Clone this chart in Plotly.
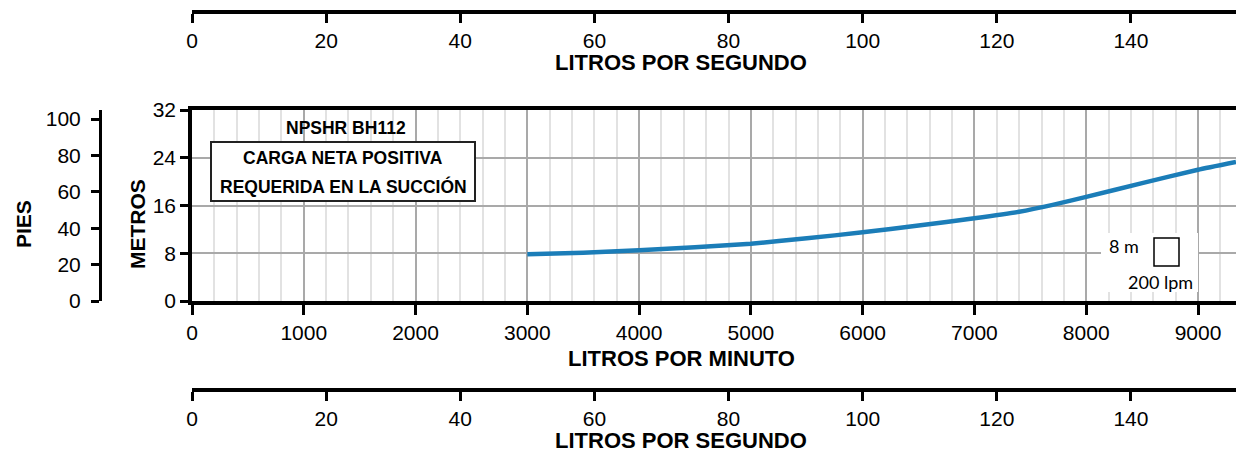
import plotly.graph_objects as go

# ---- data ----
lpm = [3000, 3500, 4000, 4500, 5000, 5500, 6000, 6500, 7000, 7400, 7700, 8000, 8500, 9000, 9340]
metros = [7.85, 8.1, 8.5, 9.0, 9.6, 10.5, 11.5, 12.65, 13.85, 14.95, 16.1, 17.45, 19.75, 22.0, 23.3]
lpm_ticks = [0, 1000, 2000, 3000, 4000, 5000, 6000, 7000, 8000, 9000]
lps_ticks = [0, 20, 40, 60, 80, 100, 120, 140]
metros_ticks = [0, 8, 16, 24, 32]
pies_ticks = [0, 20, 40, 60, 80, 100]

LPM_MAX = 9340
M_MAX = 32
FT_PER_M = 3.28084

W, H = 1236, 466
def px(x):
    return x / W
def py(y):
    return 1 - y / H

SANS = "Liberation Sans, Arial, sans-serif"
TICKFONT = dict(family=SANS, size=21, color="black")

fig = go.Figure()
fig.add_trace(go.Scatter(x=lpm, y=metros, mode="lines",
                         line=dict(color="#1b7db8", width=4.5, shape="spline", smoothing=0.4),
                         hoverinfo="skip", showlegend=False))
# invisible helpers to register secondary axes
fig.add_trace(go.Scatter(x=[v / 60 for v in lpm], y=metros, xaxis="x2", yaxis="y",
                         mode="markers", marker=dict(opacity=0), hoverinfo="skip", showlegend=False))
fig.add_trace(go.Scatter(x=[v / 60 for v in lpm], y=metros, xaxis="x3", yaxis="y",
                         mode="markers", marker=dict(opacity=0), hoverinfo="skip", showlegend=False))
fig.add_trace(go.Scatter(x=lpm, y=[m * FT_PER_M for m in metros], xaxis="x", yaxis="y2",
                         mode="markers", marker=dict(opacity=0), hoverinfo="skip", showlegend=False))

xdom = [px(192), 1.0]
ydom = [py(301), py(110)]

fig.update_layout(
    width=W, height=H, autosize=False,
    margin=dict(l=0, r=0, t=0, b=0, pad=0, autoexpand=False),
    paper_bgcolor="white", plot_bgcolor="white",
    showlegend=False,
    xaxis=dict(domain=xdom, range=[0, LPM_MAX], tickvals=lpm_ticks, ticktext=[str(v) for v in lpm_ticks],
               showgrid=True, gridcolor="#a9a9a9", gridwidth=2,
               minor=dict(dtick=200, tick0=0, showgrid=True, gridcolor="#e2e2e2", gridwidth=1.5),
               showline=True, linecolor="black", linewidth=3.5, mirror=True,
               ticks="outside", ticklen=10, tickwidth=3, tickcolor="black",
               tickfont=TICKFONT, zeroline=False, anchor="y", fixedrange=True, automargin=False),
    yaxis=dict(domain=ydom, range=[0, M_MAX], tickvals=metros_ticks,
               showgrid=True, gridcolor="#a9a9a9", gridwidth=2,
               showline=True, linecolor="black", linewidth=3.5,
               ticks="outside", ticklen=8, tickwidth=3, tickcolor="black",
               tickfont=TICKFONT, zeroline=False, anchor="x", fixedrange=True, automargin=False),
    xaxis2=dict(overlaying="x", anchor="free", position=py(12), side="bottom",
                range=[0, LPM_MAX / 60], tickvals=lps_ticks,
                showgrid=False, showline=True, linecolor="black", linewidth=3.5,
                ticks="outside", ticklen=9, tickwidth=3, tickcolor="black",
                tickfont=TICKFONT, zeroline=False, fixedrange=True, automargin=False),
    xaxis3=dict(overlaying="x", anchor="free", position=py(390), side="bottom",
                range=[0, LPM_MAX / 60], tickvals=lps_ticks,
                showgrid=False, showline=True, linecolor="black", linewidth=3.5,
                ticks="outside", ticklen=9, tickwidth=3, tickcolor="black",
                tickfont=TICKFONT, zeroline=False, fixedrange=True, automargin=False),
    yaxis2=dict(overlaying="y", anchor="free", position=px(100), side="left",
                range=[0, M_MAX * FT_PER_M], tickvals=pies_ticks,
                showgrid=False, showline=True, linecolor="black", linewidth=3,
                ticks="outside", ticklen=8, tickwidth=3, tickcolor="black",
                ticklabelstandoff=6,
                tickfont=TICKFONT, zeroline=False, fixedrange=True, automargin=False),
)

def label(text, x, y, size, angle=0, bold=True, family=SANS):
    fig.add_annotation(text=f"<b>{text}</b>" if bold else text, x=px(x), y=py(y),
                       xref="paper", yref="paper", xanchor="center", yanchor="middle",
                       showarrow=False, textangle=angle,
                       font=dict(family=family, size=size, color="black"))

label("LITROS POR SEGUNDO", 681, 63, 22)
label("LITROS POR MINUTO", 681, 358, 22)
label("LITROS POR SEGUNDO", 681, 440, 22)
label("METROS", 138, 224, 21, angle=-90)
label("PIES", 24, 224, 21, angle=-90)

# annotation box
fig.add_shape(type="rect", xref="paper", yref="paper",
              x0=px(211), x1=px(475), y0=py(201), y1=py(142),
              fillcolor="white", line=dict(color="#222", width=2), layer="above")
label("NPSHR BH112", 346, 128, 17.5)
label("CARGA NETA POSITIVA", 343, 158, 17.5)
label("REQUERIDA EN LA SUCCIÓN", 343, 186, 17.5)

# scale legend
fig.add_shape(type="rect", xref="paper", yref="paper",
              x0=px(1101), x1=px(1198), y0=py(292), y1=py(233),
              fillcolor="white", line=dict(width=0), layer="above")
fig.add_shape(type="rect", xref="paper", yref="paper",
              x0=px(1154), x1=px(1179), y0=py(266), y1=py(238),
              fillcolor="white", line=dict(color="black", width=1.5), layer="above")
label("8 m", 1124, 246, 18, bold=False, family="Lato, Carlito, sans-serif")
label("200 lpm", 1160, 282, 18, bold=False, family="Lato, Carlito, sans-serif")

post = "document.body.style.margin='0';"
fig.write_html("out.html", config={"displayModeBar": False}, post_script=post)
